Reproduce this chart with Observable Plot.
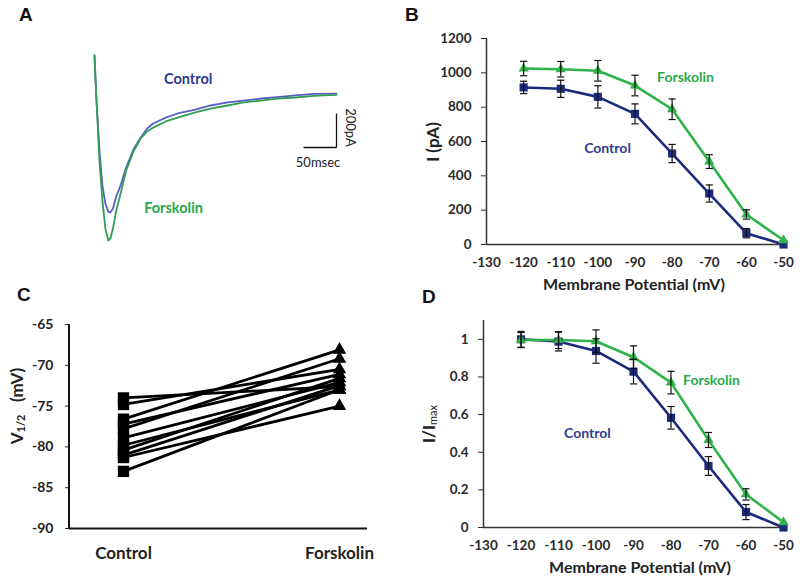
<!DOCTYPE html>
<html><head><meta charset="utf-8">
<script src="https://cdn.jsdelivr.net/npm/d3@7"></script>
<script src="https://cdn.jsdelivr.net/npm/@observablehq/plot@0.6"></script>
<style>
body{margin:0;background:#fff;}
#wrap{position:relative;width:800px;height:579px;overflow:hidden;background:#fff;}
#wrap > svg{position:absolute;overflow:visible;}
.plab{position:absolute;font:bold 19px "Liberation Sans",Arial,sans-serif;color:#111;line-height:1;}
</style></head><body><div id="wrap"></div>
<script>
// ---------- DATA ----------
// Panel A: example current traces (ms, pA)
const traceTime = [0, 3, 7.5, 12, 16.5, 21, 24, 28, 33, 40, 48, 59, 70, 80, 89, 108, 126, 153, 176, 202, 226, 252, 277, 305, 332, 367];
const traceControl = [0, -265, -559, -765, -871, -918, -924, -900, -829, -759, -659, -553, -482, -429, -400, -365, -341, -318, -294, -276, -265, -253, -245, -235, -226, -224];
const traceForskolin = [0, -265, -618, -853, -1018, -1088, -1076, -1018, -912, -806, -676, -565, -488, -447, -424, -388, -365, -335, -312, -294, -276, -265, -253, -247, -238, -232];

// Panels B & D: membrane potential (mV)
const voltages = [-120, -110, -100, -90, -80, -70, -60, -50];
const currentControl = [915, 907, 860, 761, 530, 297, 66, 0];
const currentControlErr = [36, 50, 65, 58, 53, 50, 27, 0];
const currentForskolin = [1025, 1021, 1012, 926, 788, 483, 175, 25];
const currentForskolinErr = [42, 45, 60, 60, 60, 40, 27, 0];
const normControl = [1.0, 0.988, 0.938, 0.828, 0.583, 0.327, 0.082, 0];
const normControlErr = [0.042, 0.05, 0.065, 0.065, 0.06, 0.05, 0.04, 0];
const normForskolin = [0.996, 0.996, 0.99, 0.905, 0.77, 0.465, 0.176, 0.028];
const normForskolinErr = [0.04, 0.045, 0.06, 0.06, 0.06, 0.04, 0.03, 0];
const xTicks = [-130, -120, -110, -100, -90, -80, -70, -60, -50];
const currentTicks = [0, 200, 400, 600, 800, 1000, 1200];
const normTicks = [0, 0.2, 0.4, 0.6, 0.8, 1];

// Panel C: V1/2 per cell (mV)
const conditions = ["Control", "Forskolin"];
const v12Control = [-74.0, -74.8, -76.6, -77.2, -77.8, -78.9, -79.8, -80.4, -81.0, -81.3, -83.0];
const v12Forskolin = [-72.6, -70.5, -68.1, -71.1, -69.2, -72.1, -73.0, -71.6, -72.5, -75.0, -73.0];
const v12Ticks = [-90, -85, -80, -75, -70, -65];

// ---------- STYLE ----------
const NAVY = "#1c2a7c", GREEN = "#2db34a";
const TXT_NAVY = "#2e3a8f", TXT_GREEN = "#2aa84a";
const TR_BLUE = "#5a5ec4", TR_GREEN = "#2f9e52";
const FONT = "Lato, 'Open Sans', sans-serif";
const wrap = document.getElementById("wrap");

function place(svg, left, top) {
  svg.style.left = left + "px"; svg.style.top = top + "px";
  wrap.appendChild(svg);
  return d3.select(svg);
}
function addText(sel, x, y, str, opts = {}) {
  const t = sel.append("text").attr("x", x).attr("y", y)
    .attr("text-anchor", opts.anchor || "middle")
    .attr("dominant-baseline", "central")
    .attr("font-family", FONT).attr("font-weight", opts.weight || "bold")
    .attr("font-size", opts.size || 16).attr("fill", opts.fill || "#222");
  if (opts.rotate) t.attr("transform", `rotate(${opts.rotate},${x},${y})`);
  t.append("tspan").text(str);
  return t;
}
const capSymbol = { draw(ctx, size) { const r = Math.sqrt(size / Math.PI); ctx.moveTo(-r, 0); ctx.lineTo(r, 0); } };

// ---------- PANEL A ----------
{
  const rows = traceTime.flatMap((t, i) => [
    { t, I: traceControl[i], s: "Control" },
    { t, I: traceForskolin[i], s: "Forskolin" }
  ]);
  const barT = 367, barI = -541; // scale bar corner
  const svg = Plot.plot({
    width: 400, height: 270,
    marginLeft: 94, marginRight: 64, marginTop: 55, marginBottom: 30,
    x: { domain: [0, 367], axis: null },
    y: { domain: [-1088, 0], axis: null },
    style: { fontFamily: FONT, background: "transparent" },
    marks: [
      Plot.line(rows.filter(d => d.s === "Control"), { x: "t", y: "I", stroke: TR_BLUE, strokeWidth: 1.8 }),
      Plot.line(rows.filter(d => d.s === "Forskolin"), { x: "t", y: "I", stroke: TR_GREEN, strokeWidth: 1.8 }),
      Plot.link([{}], { x1: barT - 50, x2: barT, y1: barI, y2: barI, stroke: "#111", strokeWidth: 1.3 }),
      Plot.link([{}], { x1: barT, x2: barT, y1: barI, y2: barI + 200, stroke: "#111", strokeWidth: 1.3 }),
      Plot.text([{ t: 142, I: -141, s: "Control" }], { x: "t", y: "I", text: "s", fill: TXT_NAVY, fontWeight: "bold", fontSize: 14.5 }),
      Plot.text([{ t: 120, I: -900, s: "Forskolin" }], { x: "t", y: "I", text: "s", fill: TXT_GREEN, fontWeight: "bold", fontSize: 14.5 }),
      Plot.text([{ t: 339, I: -629, s: "50msec" }], { x: "t", y: "I", text: "s", fill: "#222", fontSize: 13 }),
      Plot.text([{ t: 388, I: -423, s: "200pA" }], { x: "t", y: "I", text: "s", fill: "#222", fontSize: 13, rotate: 90 })
    ]
  });
  place(svg, 0, 0);
}

// ---------- PANELS B & D ----------
function ivPanel(cfg) {
  const mk = (ys, es) => voltages.map((v, i) => ({ v, y: ys[i], e: es[i] }));
  const c = mk(cfg.ctrl, cfg.ctrlErr), f = mk(cfg.forsk, cfg.forskErr);
  const errs = [...c, ...f].filter(d => d.e > 0);
  const svg = Plot.plot({
    width: 400, height: cfg.height,
    marginLeft: cfg.ml, marginRight: 17, marginTop: cfg.mt, marginBottom: cfg.mb,
    x: { domain: [-130, -50] },
    y: { domain: cfg.yDomain },
    style: { fontFamily: FONT, fontSize: "13.5px", fontWeight: "bold", color: "#2a2a2a", background: "transparent", overflow: "visible" },
    marks: [
      Plot.axisX({ ticks: xTicks, tickSize: 0, tickPadding: 13, tickFormat: d => String(d), label: null }),
      Plot.axisY({ ticks: cfg.yTicks, tickSize: 5, tickPadding: cfg.tp, tickFormat: d => String(d), label: null }),
      Plot.ruleY([cfg.yDomain[0]], { stroke: "#333", strokeWidth: 1.5 }),
      Plot.ruleX([-130], { y1: cfg.yDomain[0], y2: cfg.yDomain[1], stroke: "#333", strokeWidth: 1.5 }),
      Plot.line(c, { x: "v", y: "y", stroke: NAVY, strokeWidth: 2.6 }),
      Plot.line(f, { x: "v", y: "y", stroke: GREEN, strokeWidth: 2.6 }),
      Plot.dot(c, { x: "v", y: "y", symbol: "square", r: 4.6, fill: NAVY }),
      Plot.dot(f, { x: "v", y: "y", symbol: "triangle", r: 3.8, fill: GREEN }),
      Plot.ruleX(errs, { x: "v", y1: d => d.y - d.e, y2: d => d.y + d.e, stroke: "#111", strokeWidth: 1.2 }),
      Plot.dot(errs, { x: "v", y: d => d.y + d.e, symbol: capSymbol, r: 3.6, stroke: "#111", strokeWidth: 1.2 }),
      Plot.dot(errs, { x: "v", y: d => d.y - d.e, symbol: capSymbol, r: 3.6, stroke: "#111", strokeWidth: 1.2 }),
      Plot.text([{ x: cfg.fLab[0], y: cfg.fLab[1], s: "Forskolin" }], { x: "x", y: "y", text: "s", fill: TXT_GREEN, fontSize: 14, fontWeight: "bold" }),
      Plot.text([{ x: cfg.cLab[0], y: cfg.cLab[1], s: "Control" }], { x: "x", y: "y", text: "s", fill: TXT_NAVY, fontSize: 14, fontWeight: "bold" })
    ]
  });
  return svg;
}

{
  const svg = ivPanel({
    ctrl: currentControl, ctrlErr: currentControlErr, forsk: currentForskolin, forskErr: currentForskolinErr,
    yDomain: [0, 1200], yTicks: currentTicks, height: 295, ml: 86, mt: 38, mb: 51, tp: 10,
    fLab: [-76.4, 973], cLab: [-97.4, 559]
  });
  const s = place(svg, 400, 0);
  addText(s, 234, 283, "Membrane Potential (mV)", { size: 16 });
  addText(s, 32, 142, "I (pA)", { size: 17, rotate: -90 });
}
{
  const svg = ivPanel({
    ctrl: normControl, ctrlErr: normControlErr, forsk: normForskolin, forskErr: normForskolinErr,
    yDomain: [0, 1.1], yTicks: normTicks, height: 289, ml: 83, mt: 30, mb: 52, tp: 10,
    fLab: [-69.2, 0.78], cLab: [-102.3, 0.5]
  });
  const s = place(svg, 400, 290);
  addText(s, 240, 276, "Membrane Potential (mV)", { size: 16 });
  const t = addText(s, 28, 134, "I/I", { size: 17, rotate: -90 });
  t.append("tspan").attr("font-size", 11).attr("font-weight", "normal").attr("dy", 4).text("max");
}

// ---------- PANEL C ----------
{
  const pairs = v12Control.map((c, i) => ({ c, f: v12Forskolin[i] }));
  const svg = Plot.plot({
    width: 400, height: 299,
    marginLeft: 69, marginRight: 33, marginTop: 44, marginBottom: 51,
    x: { type: "point", domain: conditions, range: [123, 339], padding: 0 },
    y: { domain: [-90, -65] },
    style: { fontFamily: FONT, fontSize: "14px", fontWeight: "bold", color: "#222", background: "transparent", overflow: "visible" },
    marks: [
      Plot.axisX({ tickSize: 0, tickPadding: 18, fontSize: 17, label: null }),
      Plot.axisY({ ticks: v12Ticks, tickSize: 4, tickPadding: 12, tickFormat: d => String(d), label: null }),
      Plot.ruleY([-90], { stroke: "#111", strokeWidth: 2 }),
      Plot.link(pairs, { x1: () => conditions[0], x2: () => conditions[1], y1: "c", y2: "f", stroke: "#000", strokeWidth: 2.8 }),
      Plot.dot(pairs, { x: () => conditions[0], y: "c", symbol: "square", r: 6.4, fill: "#000" }),
      Plot.dot(pairs, { x: () => conditions[1], y: "f", symbol: "triangle", r: 5, fill: "#000" })
    ]
  });
  const s = place(svg, 0, 280);
  // y axis line
  s.append("line").attr("x1", 69).attr("x2", 69).attr("y1", 44).attr("y2", 248).attr("stroke", "#111").attr("stroke-width", 2);
  const t = addText(s, 16, 126, "V", { size: 17, rotate: -90 });
  t.append("tspan").attr("font-size", 11).attr("dy", 4).text("1/2");
  t.append("tspan").attr("dy", -4).text("\u00a0\u00a0 (mV)");
}

// ---------- PANEL LETTERS ----------
[["A", 19, 5], ["B", 405, 5], ["C", 17, 285], ["D", 422, 287]].forEach(([l, x, y]) => {
  const d = document.createElement("div");
  d.className = "plab"; d.textContent = l; d.style.left = x + "px"; d.style.top = y + "px";
  wrap.appendChild(d);
});
</script></body></html>
